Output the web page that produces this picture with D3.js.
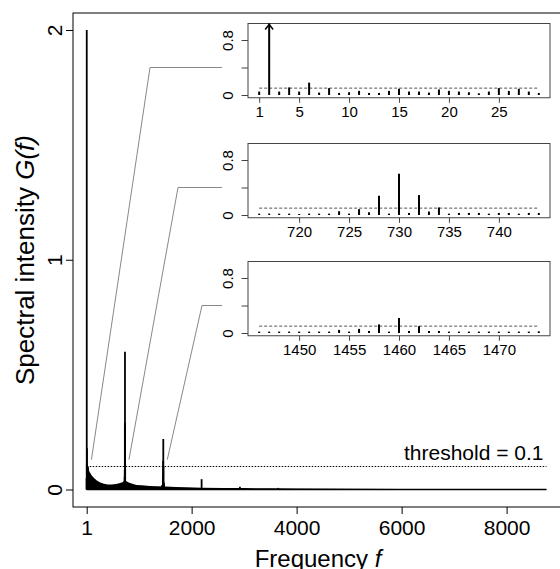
<!DOCTYPE html>
<html>
<head>
<meta charset="utf-8">
<script src="https://cdn.jsdelivr.net/npm/d3@7"></script>
<style>
  body { margin: 0; background: #fff; }
  svg { display: block; font-family: "Liberation Sans", Arial, sans-serif; }
</style>
</head>
<body>
<svg id="chart" width="560" height="569"></svg>
<script>
// spectrum values
var threshold = 0.1;

// noise floor of the full spectrum (frequency, intensity)
var floorFreq = [1, 30, 60, 100, 150, 200, 260, 330, 400, 480, 560, 620, 680, 720, 760, 800, 870, 950, 1050, 1200, 1350, 1500, 1700, 1900, 2200, 2600, 3000, 3500, 4000, 5000, 6000, 7000, 8760];
var floorVal  = [0.11, 0.09, 0.075, 0.06, 0.048, 0.038, 0.03, 0.025, 0.022, 0.022, 0.024, 0.027, 0.032, 0.038, 0.036, 0.03, 0.025, 0.02, 0.018, 0.015, 0.014, 0.013, 0.011, 0.01, 0.008, 0.007, 0.006, 0.005, 0.004, 0.003, 0.0025, 0.002, 0.002];

// other isolated peaks of the full spectrum
var peakFreq = [2190, 2920, 3650];
var peakVal  = [0.045, 0.012, 0.007];

// zoomed windows
var win1Freq = d3.range(1, 30);
var win1Val  = [0.05, 2.0, 0.05, 0.11, 0.05, 0.18, 0.035, 0.1, 0.03, 0.04, 0.06, 0.03, 0.03, 0.06, 0.09, 0.05, 0.05, 0.035, 0.08, 0.06, 0.05, 0.04, 0.025, 0.05, 0.1, 0.06, 0.09, 0.05, 0.03];
var win1Ticks = [1, 5, 10, 15, 20, 25];

var win2Freq = d3.range(716, 745);
var win2Val  = [0.02, 0.02, 0.02, 0.02, 0.015, 0.02, 0.02, 0.02, 0.055, 0.02, 0.085, 0.04, 0.28, 0.02, 0.6, 0.03, 0.29, 0.05, 0.11, 0.02, 0.03, 0.03, 0.03, 0.02, 0.03, 0.03, 0.02, 0.03, 0.03];
var win2Ticks = [720, 725, 730, 735, 740];

var win3Freq = d3.range(1446, 1475);
var win3Val  = [0.02, 0.02, 0.02, 0.02, 0.02, 0.02, 0.02, 0.02, 0.045, 0.02, 0.06, 0.03, 0.125, 0.02, 0.22, 0.03, 0.1, 0.03, 0.03, 0.02, 0.02, 0.02, 0.02, 0.02, 0.02, 0.02, 0.02, 0.02, 0.025];
var win3Ticks = [1450, 1455, 1460, 1465, 1470];

var mainXTicks = [1, 2000, 4000, 6000, 8000];
var mainYTicks = [0, 1, 2];

(function () {
    var svg = d3.select("#chart");

    var box = {left: 73, top: 13, right: 561, bottom: 507};

    var x = d3.scaleLinear().domain([1, 8000]).range([86.7, 506.6]);
    var y = d3.scaleLinear().domain([0, 2]).range([489.5, 30]);

    // plot frame
    svg.append("rect")
        .attr("x", box.left).attr("y", box.top)
        .attr("width", box.right - box.left).attr("height", box.bottom - box.top)
        .attr("fill", "none").attr("stroke", "#000").attr("stroke-width", 1);

    // x axis
    var xAxis = svg.append("g")
        .attr("transform", "translate(0," + box.bottom + ")")
        .call(d3.axisBottom(x).tickValues(mainXTicks).tickSize(7).tickPadding(6).tickFormat(d3.format("d")));
    xAxis.select(".domain").remove();
    xAxis.selectAll("text").attr("font-size", 21).attr("fill", "#000")
        .attr("font-family", "'Liberation Sans', Arial, sans-serif");
    xAxis.selectAll("line").attr("stroke", "#000");

    // y axis with rotated labels
    var yAxis = svg.append("g")
        .attr("transform", "translate(" + box.left + ",0)")
        .call(d3.axisLeft(y).tickValues(mainYTicks).tickSize(7).tickFormat(d3.format("d")));
    yAxis.select(".domain").remove();
    yAxis.selectAll("line").attr("stroke", "#000");
    yAxis.selectAll("text")
        .attr("font-size", 21).attr("fill", "#000")
        .attr("font-family", "'Liberation Sans', Arial, sans-serif")
        .attr("x", null).attr("dy", null)
        .attr("text-anchor", "middle")
        .attr("transform", "translate(-11,0) rotate(-90)");

    // axis titles
    var yt = svg.append("text")
        .attr("transform", "translate(34," + ((box.top + box.bottom) / 2) + ") rotate(-90)")
        .attr("text-anchor", "middle")
        .attr("font-size", 26);
    yt.append("tspan").text("Spectral intensity ");
    yt.append("tspan").attr("font-style", "italic").text("G(f)");

    var xt = svg.append("text")
        .attr("x", (box.left + box.right) / 2 + 1)
        .attr("y", 567)
        .attr("text-anchor", "middle")
        .attr("font-size", 24);
    xt.append("tspan").text("Frequency ");
    xt.append("tspan").attr("font-style", "italic").text("f");

    // threshold line and label
    svg.append("line")
        .attr("x1", x(1)).attr("x2", x(8760))
        .attr("y1", y(threshold)).attr("y2", y(threshold))
        .attr("stroke", "#000").attr("stroke-width", 1).attr("stroke-dasharray", "1.5,1.5");
    svg.append("text")
        .attr("x", 543.5).attr("y", y(threshold) - 7)
        .attr("text-anchor", "end").attr("font-size", 21)
        .text("threshold = " + threshold);

    // noise floor as filled area
    var floorData = floorFreq.map(function (f, i) { return {f: f, v: floorVal[i]}; });
    svg.append("path")
        .datum(floorData)
        .attr("fill", "#000")
        .attr("d", d3.area()
            .x(function (d) { return x(d.f); })
            .y0(y(0))
            .y1(function (d) { return y(d.v); }));

    // spikes in the full spectrum
    var spikes = [];
    [[win1Freq, win1Val], [win2Freq, win2Val], [win3Freq, win3Val], [peakFreq, peakVal]].forEach(function (s) {
        s[0].forEach(function (f, i) { spikes.push({f: f, v: s[1][i]}); });
    });
    svg.append("g").selectAll("line")
        .data(spikes)
        .enter().append("line")
        .attr("x1", function (d) { return x(d.f); })
        .attr("x2", function (d) { return x(d.f); })
        .attr("y1", y(0))
        .attr("y2", function (d) { return y(d.v); })
        .attr("stroke", "#000").attr("stroke-width", 1.8);

    // zero line of the spectrum
    svg.append("line")
        .attr("x1", x(1)).attr("x2", x(8760))
        .attr("y1", y(0)).attr("y2", y(0))
        .attr("stroke", "#000").attr("stroke-width", 1.7);

    // insets
    var insets = [
        {freq: win1Freq, val: win1Val, ticks: win1Ticks, top: 23.5, cornerX: 150},
        {freq: win2Freq, val: win2Val, ticks: win2Ticks, top: 143.5, cornerX: 178},
        {freq: win3Freq, val: win3Val, ticks: win3Ticks, top: 261.5, cornerX: 202}
    ];
    var inL = 248, inR = 550, unit = 68.75;

    insets.forEach(function (ins) {
        var f0 = ins.freq[0], f1 = ins.freq[ins.freq.length - 1];
        var pad = (f1 - f0) * 0.04;
        var ix = d3.scaleLinear().domain([f0 - pad, f1 + pad]).range([inL, inR]);
        var iy = d3.scaleLinear().domain([-0.04, 1.04]).range([ins.top + 1.08 * unit, ins.top]);
        var g = svg.append("g");

        g.append("rect")
            .attr("x", inL).attr("y", ins.top)
            .attr("width", inR - inL).attr("height", iy(-0.04) - ins.top)
            .attr("fill", "#fff").attr("stroke", "#444").attr("stroke-width", 1);

        var ax = g.append("g")
            .attr("transform", "translate(0," + iy(-0.04) + ")")
            .call(d3.axisBottom(ix).tickValues(ins.ticks).tickSize(5).tickPadding(4).tickFormat(d3.format("d")));
        ax.select(".domain").remove();
        ax.selectAll("line").attr("stroke", "#444");
        ax.selectAll("text").attr("font-size", 15).attr("fill", "#000")
            .attr("font-family", "'Liberation Sans', Arial, sans-serif");

        var ay = g.append("g")
            .attr("transform", "translate(" + inL + ",0)")
            .call(d3.axisLeft(iy).tickValues([0, 0.4, 0.8]).tickSize(6.5)
                .tickFormat(function (d) { return d === 0.4 ? "" : (d === 0 ? "0" : d3.format(".1f")(d)); }));
        ay.select(".domain").remove();
        ay.selectAll("line").attr("stroke", "#444");
        ay.selectAll("text")
            .attr("font-size", 15).attr("fill", "#000")
            .attr("font-family", "'Liberation Sans', Arial, sans-serif")
            .attr("x", null).attr("dy", null)
            .attr("text-anchor", "middle")
            .attr("transform", "translate(-15,0) rotate(-90)");

        g.append("line")
            .attr("x1", ix(f0)).attr("x2", ix(f1))
            .attr("y1", iy(threshold)).attr("y2", iy(threshold))
            .attr("stroke", "#555").attr("stroke-width", 1).attr("stroke-dasharray", "3,2");

        var data = ins.freq.map(function (f, i) { return {f: f, v: ins.val[i]}; });
        g.selectAll(".bar")
            .data(data)
            .enter().append("line")
            .attr("class", "bar")
            .attr("x1", function (d) { return ix(d.f); })
            .attr("x2", function (d) { return ix(d.f); })
            .attr("y1", iy(0))
            .attr("y2", function (d) { return iy(Math.min(d.v, 1.04)); })
            .attr("stroke", "#000").attr("stroke-width", 2);

        // arrow for values beyond the window
        data.filter(function (d) { return d.v > 1.04; }).forEach(function (d) {
            var ax0 = ix(d.f), ay0 = ins.top + 1;
            g.append("path")
                .attr("d", "M" + (ax0 - 4) + "," + (ay0 + 5) + "L" + ax0 + "," + ay0 + "L" + (ax0 + 4) + "," + (ay0 + 5))
                .attr("fill", "none").attr("stroke", "#000").attr("stroke-width", 1.5);
        });

        // leader line from the main spectrum to the inset
        var cx = (f0 + f1) / 2;
        var ly = iy(0.4);
        svg.append("polyline")
            .attr("points", [
                [x(cx) + 4, y(0.13)],
                [ins.cornerX, ly],
                [222, ly]
            ].map(function (p) { return p.join(","); }).join(" "))
            .attr("fill", "none").attr("stroke", "#888").attr("stroke-width", 1);
    });
})();
</script>
</body>
</html>
